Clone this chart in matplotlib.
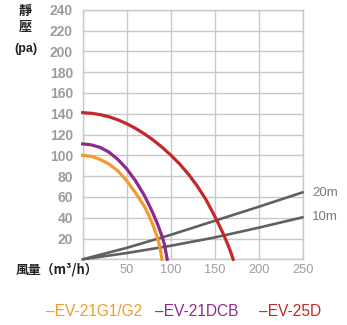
import matplotlib
matplotlib.use("Agg")
import matplotlib.pyplot as plt

# ---- data ----
x_ticks = [50, 100, 150, 200, 250]
y_ticks = [20, 40, 60, 80, 100, 120, 140, 160, 180, 200, 220, 240]

g1_x = [0, 10, 20, 30, 40, 50, 60, 70, 75, 80, 85, 88, 90]
g1_y = [100, 99, 96, 91.5, 85, 75.5, 64, 51, 42.5, 32.5, 20.5, 11, 0]

dcb_x = [0, 10, 20, 30, 40, 50, 60, 70, 75, 80, 85, 90, 93, 96]
dcb_y = [111, 110, 107.5, 103, 96, 87, 75.5, 61.5, 53, 44, 34, 22.5, 14, 0]

ev25_x = [0, 10, 20, 30, 40, 50, 60, 70, 80, 90, 100, 110, 120, 130, 140, 150, 155, 160, 165, 168, 171]
ev25_y = [141, 140.4, 139.1, 137, 134.1, 130.4, 125.9, 120.7, 114.7, 107.9, 100.3, 91.8, 82, 70.7, 57.5, 41.5, 33, 24, 14, 7.5, 0]

duct_x = [0, 50, 100, 150, 200, 250]
duct20_y = [0, 11, 23.5, 37, 50.5, 64.4]
duct10_y = [0, 6, 13, 21, 30.4, 40.4]

series_names = ["EV-21G1/G2", "EV-21DCB", "EV-25D"]
series_colors = ["#f39a2e", "#8c2a8e", "#c3282c"]

W, H = 347, 325
fig = plt.figure(figsize=(W / 100, H / 100), dpi=100)
L, R, T, B = 82.7, 302.7, 9.7, 259.3
ax = fig.add_axes([L / W, 1 - B / H, (R - L) / W, (B - T) / H])

grid_c = "#c8c8c8"
ax.set_xlim(0, 250)
ax.set_ylim(0, 240)
ax.set_xticks([0] + x_ticks)
ax.set_yticks([0] + y_ticks)
ax.set_xticklabels([""] + [str(v) for v in x_ticks])
ax.set_yticklabels([""] + [str(v) for v in y_ticks])
ax.grid(True, color=grid_c, linewidth=1.0)
ax.set_axisbelow(True)
for s in ax.spines.values():
    s.set_color(grid_c)
    s.set_linewidth(1.0)
ax.tick_params(length=0)
ax.tick_params(axis="y", pad=7)
ax.tick_params(axis="x", pad=3.5)
for lab in ax.get_yticklabels():
    lab.set_fontfamily("Liberation Sans")
    lab.set_fontweight("bold")
    lab.set_fontsize(10)
    lab.set_color("#9c9c9c")
for lab in ax.get_xticklabels():
    lab.set_fontfamily("Liberation Sans")
    lab.set_fontsize(9.2)
    lab.set_color("#9c9c9c")

ax.plot(duct_x, duct20_y, color="#606060", lw=1.9, solid_capstyle="round", zorder=3)
ax.plot(duct_x, duct10_y, color="#606060", lw=1.9, solid_capstyle="round", zorder=3)
ax.plot(g1_x, g1_y, color=series_colors[0], lw=2.3, zorder=4, solid_joinstyle="round")
ax.plot(dcb_x, dcb_y, color=series_colors[1], lw=2.3, zorder=4, solid_joinstyle="round")
ax.plot(ev25_x, ev25_y, color=series_colors[2], lw=2.3, zorder=4, solid_joinstyle="round")
for ln in ax.lines:
    ln.set_clip_on(False)

def P(x, y):
    return (x / W, 1 - y / H)

cjk = ["Noto Sans CJK TC", "DejaVu Sans"]
fig.text(*P(25, 11), "靜", family=cjk, fontweight="bold", fontsize=9.5,
         ha="center", va="center", color="#222222")
fig.text(*P(25, 27), "壓", family=cjk, fontweight="bold", fontsize=9.5,
         ha="center", va="center", color="#222222")
fig.text(*P(25.5, 49), "(pa)", family="Liberation Sans", fontweight="bold",
         fontsize=9, ha="center", va="center", color="#222222")
fig.text(*P(16, 270), "風量（m³/h）", family=cjk, fontweight="bold", fontsize=9.3,
         ha="left", va="center", color="#222222")

fig.text(*P(312, 192.5), "20m", family="Liberation Sans", fontsize=9.5,
         ha="left", va="center", color="#7a7a7a")
fig.text(*P(312, 217.5), "10m", family="Liberation Sans", fontsize=9.5,
         ha="left", va="center", color="#7a7a7a")

leg_x = [46.5, 155, 259]
for name, c, lx in zip(series_names, series_colors, leg_x):
    fig.text(*P(lx, 311.5), "–" + name, family="Liberation Sans", fontsize=11.2,
             ha="left", va="center", color=c)

fig.savefig("out.png", dpi=100)
